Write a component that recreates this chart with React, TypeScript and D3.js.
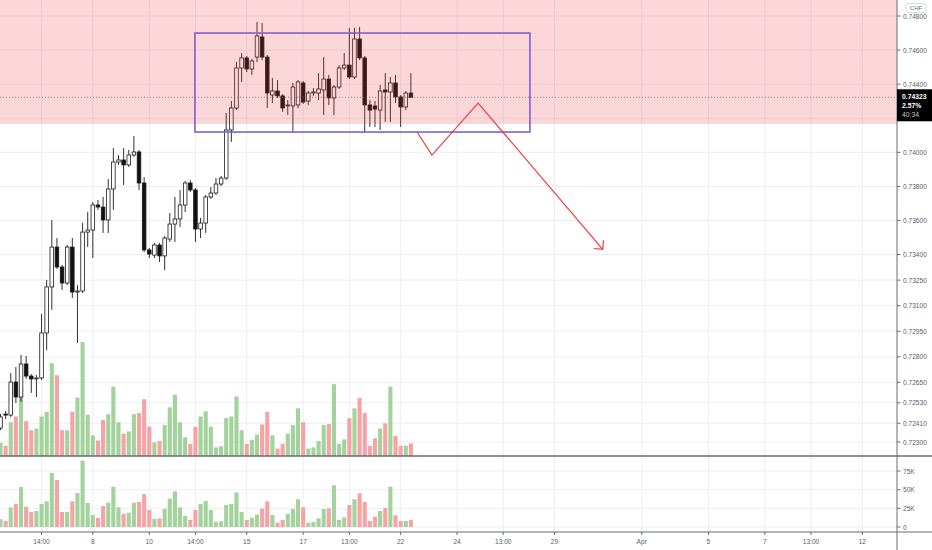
import React, { useEffect, useRef } from "react";
import * as d3 from "d3";

// candles, one per bar
const opens = [
  0.72382, 0.72464, 0.72458, 0.72652, 0.72564, 0.72758, 0.72687, 0.7267, 0.72676, 0.7294,
  0.7321, 0.73444, 0.73327, 0.73233, 0.73444, 0.7318, 0.73186, 0.73532, 0.73544, 0.73691,
  0.73679, 0.73603, 0.73785, 0.73943, 0.73955, 0.73926, 0.73984, 0.74002, 0.7382, 0.73427,
  0.73397, 0.73456, 0.73392, 0.73491, 0.73579, 0.73609, 0.73691, 0.7382, 0.73779, 0.7355,
  0.73585, 0.73738, 0.73761, 0.73814, 0.73849, 0.74131, 0.7426, 0.74495, 0.74554, 0.74489,
  0.74559, 0.74677, 0.74559, 0.74336, 0.7436, 0.74331, 0.74272, 0.74272, 0.74278, 0.74407,
  0.74301, 0.74348, 0.74348, 0.74366, 0.7443, 0.74319, 0.74383, 0.74495, 0.74512, 0.74442,
  0.74665, 0.74554, 0.74278, 0.74272, 0.74248, 0.74366, 0.74354, 0.74407, 0.74325, 0.74266,
  0.74348,
];
const highs = [
  0.72464, 0.72482, 0.72705, 0.7274, 0.72811, 0.72805, 0.72699, 0.72693, 0.73051, 0.73251,
  0.73603, 0.73497, 0.73339, 0.73456, 0.73497, 0.73221, 0.73585, 0.7365, 0.73708, 0.7372,
  0.73738, 0.73843, 0.74025, 0.73984, 0.74025, 0.74014, 0.74096, 0.74014, 0.73855, 0.73439,
  0.73468, 0.73468, 0.73509, 0.73644, 0.73738, 0.73779, 0.73832, 0.73838, 0.73791, 0.73615,
  0.7375, 0.73796, 0.73849, 0.73861, 0.74231, 0.74301, 0.7453, 0.74583, 0.74565, 0.74548,
  0.74765, 0.74759, 0.74571, 0.74436, 0.74424, 0.74342, 0.74307, 0.74407, 0.74424, 0.74419,
  0.7436, 0.74377, 0.74465, 0.74559, 0.74454, 0.74395, 0.74512, 0.74583, 0.7473, 0.7473,
  0.74735, 0.74565, 0.74307, 0.74301, 0.74395, 0.74465, 0.74442, 0.74454, 0.74336, 0.7436,
  0.74465,
];
const lows = [
  0.7237, 0.72435, 0.72447, 0.72529, 0.72535, 0.7267, 0.72588, 0.72564, 0.72664, 0.7284,
  0.73075, 0.73315, 0.73192, 0.73221, 0.73145, 0.72881, 0.73174, 0.73444, 0.7338, 0.73662,
  0.73527, 0.73527, 0.73662, 0.73926, 0.73808, 0.73914, 0.73973, 0.73779, 0.73415, 0.7338,
  0.7338, 0.73356, 0.73309, 0.73474, 0.73474, 0.73562, 0.7365, 0.73767, 0.73474, 0.73497,
  0.73527, 0.73726, 0.7375, 0.73802, 0.73838, 0.74061, 0.74248, 0.74413, 0.74471, 0.74454,
  0.7453, 0.74542, 0.7426, 0.74289, 0.74319, 0.74237, 0.74219, 0.74119, 0.7426, 0.74284,
  0.74278, 0.74331, 0.74307, 0.74219, 0.74278, 0.74219, 0.74372, 0.74483, 0.7443, 0.7443,
  0.74542, 0.74119, 0.74149, 0.74149, 0.74131, 0.74178, 0.74178, 0.74289, 0.74149, 0.74248,
  0.74319,
];
const closes = [
  0.72447, 0.72458, 0.72652, 0.72564, 0.72758, 0.72687, 0.7267, 0.72676, 0.7294, 0.7321,
  0.73444, 0.73327, 0.73233, 0.73444, 0.7318, 0.73186, 0.73532, 0.73544, 0.73691, 0.73679,
  0.73603, 0.73785, 0.73943, 0.73955, 0.73926, 0.73984, 0.74002, 0.7382, 0.73427, 0.73403,
  0.73456, 0.73392, 0.73497, 0.73579, 0.73609, 0.73691, 0.7382, 0.73779, 0.7355, 0.73585,
  0.73738, 0.73761, 0.73814, 0.73849, 0.74131, 0.7426, 0.74495, 0.74554, 0.74489, 0.74536,
  0.74683, 0.74559, 0.74348, 0.7436, 0.74331, 0.7426, 0.74278, 0.74383, 0.74413, 0.74295,
  0.74348, 0.74354, 0.74372, 0.7443, 0.74319, 0.74383, 0.74495, 0.74512, 0.74442, 0.74665,
  0.74554, 0.74278, 0.74248, 0.74254, 0.7436, 0.74354, 0.74407, 0.74325, 0.74266, 0.74348,
  0.74323,
];
const volumes = [
  10300, 8000, 26300, 30800, 53600, 27200, 20100, 21400, 30800, 34400,
  72300, 62900, 20100, 20100, 34400, 45500, 88800, 32100, 16100, 12100,
  28100, 32600, 54000, 26300, 17400, 19200, 32600, 33500, 44200, 22800,
  10700, 11600, 24100, 37900, 47800, 26300, 14700, 9400, 22800, 30800,
  34800, 22800, 6700, 7600, 29500, 30800, 46400, 20100, 9400, 12500,
  16500, 24600, 34400, 16100, 5800, 9400, 17400, 24100, 37100, 26300,
  5800, 6700, 11600, 24100, 25000, 56000, 9400, 12900, 29500, 37100,
  45100, 33500, 8000, 13800, 21400, 25400, 54000, 15600, 8000, 8000,
  9800,
];

// axes
const priceTicks = [
  0.748, 0.746, 0.744, 0.74, 0.738, 0.736, 0.734, 0.7325, 0.731, 0.7295,
  0.728, 0.7265, 0.7253, 0.7241, 0.723,
];
const hiddenPriceTicks = [0.742];
const volumeTicks = [0, 25000, 50000, 75000];
const volumeTickLabels = ["0", "25K", "50K", "75K"];
const timeTickBars = [8, 18, 29, 38, 48, 59, 68, 78, 89, 98, 108, 125, 138, 149, 158, 168];
const timeTickLabels = [
  "14:00", "8", "10", "14:00", "15", "17", "13:00", "22", "24", "13:00",
  "29", "Apr", "5", "7", "13:00", "12",
];

// drawings
const zoneBottom = 0.74166;
const boxBars = [37.9, 103.2];
const boxPrices = [0.747, 0.74119];
const pathBars = [81.2, 84.1, 93.1, 117.4];
const pathPrices = [0.74119, 0.73984, 0.74289, 0.73431];
const changeText = "2.57%";
const countdownText = "40:34";

const W = 932;
const H = 550;
const AXIS_X = 897;
const PANE_BOTTOM = 456;
const TIME_Y = 532;
const FONT = "'Liberation Sans', Arial, sans-serif";

const App: React.FC = () => {
  const svgRef = useRef<SVGSVGElement>(null);

  useEffect(() => {
    if (!svgRef.current) return;
    const svg = d3.select(svgRef.current);
    svg.selectAll("*").remove();

    const step = 5.13;
    const x = d3.scaleLinear().domain([0, 1]).range([0.5, 0.5 + step]);
    const y = d3.scaleLinear().domain([0.723, 0.748]).range([442, 16]);
    const vy = d3.scaleLinear().domain([0, 75000]).range([527, 471]);
    const vOver = d3
      .scaleLinear()
      .domain([0, d3.max(volumes) as number])
      .range([PANE_BOTTOM, PANE_BOTTOM - PANE_BOTTOM * 0.25]);

    const bars = opens.map((o, i) => ({
      i,
      o,
      h: highs[i],
      l: lows[i],
      c: closes[i],
      v: volumes[i],
      up: closes[i] >= o,
    }));

    svg.append("rect").attr("width", W).attr("height", H).attr("fill", "#fff");

    const defs = svg.append("defs");
    defs
      .append("clipPath")
      .attr("id", "mainClip")
      .append("rect")
      .attr("width", AXIS_X)
      .attr("height", PANE_BOTTOM);

    // grid
    const grid = svg.append("g").attr("stroke", "#eceef3").attr("stroke-width", 1);
    timeTickBars.forEach((b) => {
      grid
        .append("line")
        .attr("x1", x(b))
        .attr("x2", x(b))
        .attr("y1", 0)
        .attr("y2", TIME_Y);
    });
    [...priceTicks, ...hiddenPriceTicks].forEach((p) => {
      grid
        .append("line")
        .attr("x1", 0)
        .attr("x2", AXIS_X)
        .attr("y1", y(p))
        .attr("y2", y(p));
    });
    volumeTicks.forEach((v) => {
      grid
        .append("line")
        .attr("x1", 0)
        .attr("x2", AXIS_X)
        .attr("y1", vy(v))
        .attr("y2", vy(v));
    });

    const main = svg.append("g").attr("clip-path", "url(#mainClip)");

    // volume overlay in the price pane
    const vw = 4.1;
    main
      .append("g")
      .selectAll("rect")
      .data(bars)
      .join("rect")
      .attr("x", (d) => x(d.i) - vw / 2)
      .attr("y", (d) => vOver(d.v))
      .attr("width", vw)
      .attr("height", (d) => PANE_BOTTOM - vOver(d.v))
      .attr("fill", (d) => (d.up ? "#a3d29c" : "#f6a3a5"));

    // candles
    const bw = 3.6;
    const cg = main.append("g");
    cg.selectAll("line")
      .data(bars)
      .join("line")
      .attr("x1", (d) => x(d.i))
      .attr("x2", (d) => x(d.i))
      .attr("y1", (d) => y(d.h))
      .attr("y2", (d) => y(d.l))
      .attr("stroke", "#1b1b1b")
      .attr("stroke-width", 0.9);
    cg.selectAll("rect")
      .data(bars)
      .join("rect")
      .attr("x", (d) => x(d.i) - bw / 2)
      .attr("y", (d) => y(Math.max(d.o, d.c)))
      .attr("width", bw)
      .attr("height", (d) => Math.max(1, Math.abs(y(d.o) - y(d.c))))
      .attr("fill", (d) => (d.up ? "#ffffff" : "#111111"))
      .attr("stroke", "#1b1b1b")
      .attr("stroke-width", 0.8);

    // resistance zone
    main
      .append("rect")
      .attr("x", 0)
      .attr("y", 0)
      .attr("width", AXIS_X)
      .attr("height", y(zoneBottom))
      .attr("fill", "rgba(242,54,69,0.2)");

    // range box
    main
      .append("rect")
      .attr("x", x(boxBars[0]))
      .attr("y", y(boxPrices[0]))
      .attr("width", x(boxBars[1]) - x(boxBars[0]))
      .attr("height", y(boxPrices[1]) - y(boxPrices[0]))
      .attr("fill", "none")
      .attr("stroke", "#7f5fcf")
      .attr("stroke-width", 1.6);

    // projection path with arrow head
    const pts = pathBars.map((b, i) => [x(b), y(pathPrices[i])] as [number, number]);
    main
      .append("path")
      .attr("d", d3.line()(pts))
      .attr("fill", "none")
      .attr("stroke", "#ef3b3b")
      .attr("stroke-width", 1.2);
    const [tx, ty] = pts[pts.length - 1];
    const [px, py] = pts[pts.length - 2];
    const ang = Math.atan2(py - ty, px - tx);
    const wing = 9;
    const head = [-0.78, 0.78].map(
      (a) => [tx + wing * Math.cos(ang + a), ty + wing * Math.sin(ang + a)] as [number, number]
    );
    main
      .append("path")
      .attr("d", d3.line()([head[0], [tx, ty], head[1]]))
      .attr("fill", "none")
      .attr("stroke", "#ef3b3b")
      .attr("stroke-width", 1.2);

    // last price line
    const last = closes[closes.length - 1];
    main
      .append("line")
      .attr("x1", 0)
      .attr("x2", AXIS_X)
      .attr("y1", y(last))
      .attr("y2", y(last))
      .attr("stroke", "#6b6b6b")
      .attr("stroke-width", 0.8)
      .attr("stroke-dasharray", "1,2");

    // volume pane
    svg
      .append("g")
      .selectAll("rect")
      .data(bars)
      .join("rect")
      .attr("x", (d) => x(d.i) - vw / 2)
      .attr("y", (d) => vy(d.v))
      .attr("width", vw)
      .attr("height", (d) => vy(0) - vy(d.v))
      .attr("fill", (d) => (d.up ? "#a3d29c" : "#f6a3a5"));

    // separators and axis lines
    svg
      .append("line")
      .attr("x1", 0)
      .attr("x2", W)
      .attr("y1", PANE_BOTTOM)
      .attr("y2", PANE_BOTTOM)
      .attr("stroke", "#6a6d76")
      .attr("stroke-width", 1.3);
    svg
      .append("line")
      .attr("x1", 0)
      .attr("x2", W)
      .attr("y1", TIME_Y)
      .attr("y2", TIME_Y)
      .attr("stroke", "#6a6d76")
      .attr("stroke-width", 1.1);
    svg
      .append("line")
      .attr("x1", AXIS_X)
      .attr("x2", AXIS_X)
      .attr("y1", 0)
      .attr("y2", H)
      .attr("stroke", "#6a6d76")
      .attr("stroke-width", 1);

    const label = (g: d3.Selection<SVGGElement, unknown, null, undefined>) =>
      g
        .attr("font-family", FONT)
        .attr("font-size", 6.6)
        .attr("fill", "#5a5d66");

    // price axis labels
    const pa = svg.append("g").call(label);
    priceTicks.forEach((p) => {
      pa.append("line")
        .attr("x1", AXIS_X)
        .attr("x2", AXIS_X + 3.5)
        .attr("y1", y(p))
        .attr("y2", y(p))
        .attr("stroke", "#6a6d76");
      pa.append("text")
        .attr("x", AXIS_X + 6)
        .attr("y", y(p))
        .attr("dominant-baseline", "central")
        .text(d3.format(".5f")(p));
    });

    // volume axis labels
    const va = svg.append("g").call(label);
    volumeTicks.forEach((v, i) => {
      va.append("line")
        .attr("x1", AXIS_X)
        .attr("x2", AXIS_X + 3.5)
        .attr("y1", vy(v))
        .attr("y2", vy(v))
        .attr("stroke", "#6a6d76");
      va.append("text")
        .attr("x", AXIS_X + 6)
        .attr("y", vy(v))
        .attr("dominant-baseline", "central")
        .text(volumeTickLabels[i]);
    });

    // time axis labels
    const ta = svg.append("g").call(label);
    timeTickBars.forEach((b, i) => {
      ta.append("line")
        .attr("x1", x(b))
        .attr("x2", x(b))
        .attr("y1", TIME_Y)
        .attr("y2", TIME_Y + 3)
        .attr("stroke", "#6a6d76");
      ta.append("text")
        .attr("x", x(b))
        .attr("y", 541)
        .attr("text-anchor", "middle")
        .attr("dominant-baseline", "central")
        .text(timeTickLabels[i]);
    });

    // currency badge
    const badge = svg.append("g");
    badge
      .append("rect")
      .attr("x", 906)
      .attr("y", 3.5)
      .attr("width", 20)
      .attr("height", 9)
      .attr("rx", 2)
      .attr("fill", "#fff")
      .attr("stroke", "#c9cbd1")
      .attr("stroke-width", 0.7);
    badge
      .append("text")
      .attr("x", 916)
      .attr("y", 8.2)
      .attr("text-anchor", "middle")
      .attr("dominant-baseline", "central")
      .attr("font-family", FONT)
      .attr("font-size", 6)
      .attr("fill", "#6a6d76")
      .text("CHF");

    // last price tag
    const tag = svg.append("g").attr("font-family", FONT).attr("font-size", 6.8);
    tag
      .append("rect")
      .attr("x", AXIS_X)
      .attr("y", y(last) - 8)
      .attr("width", W - AXIS_X)
      .attr("height", 32)
      .attr("fill", "#000");
    tag
      .append("text")
      .attr("x", AXIS_X + 5)
      .attr("y", y(last) - 1)
      .attr("dominant-baseline", "central")
      .attr("fill", "#fff")
      .attr("font-weight", "bold")
      .text(d3.format(".5f")(last));
    tag
      .append("text")
      .attr("x", AXIS_X + 5)
      .attr("y", y(last) + 8)
      .attr("dominant-baseline", "central")
      .attr("fill", "#fff")
      .attr("font-weight", "bold")
      .text(changeText);
    tag
      .append("text")
      .attr("x", AXIS_X + 5)
      .attr("y", y(last) + 17)
      .attr("dominant-baseline", "central")
      .attr("fill", "#c8c8c8")
      .text(countdownText);
  }, []);

  return (
    <svg
      ref={svgRef}
      width={W}
      height={H}
      viewBox={`0 0 ${W} ${H}`}
      style={{ position: "absolute", left: 0, top: 0, display: "block" }}
    />
  );
};

export default App;
